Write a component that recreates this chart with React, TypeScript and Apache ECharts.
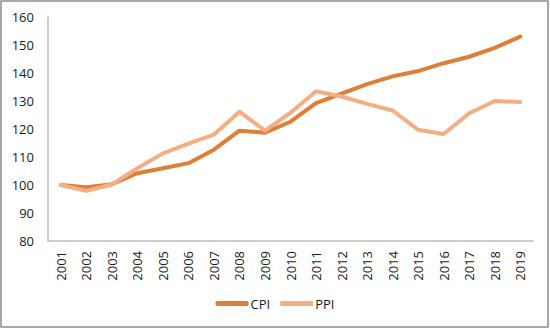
import React, { useEffect, useRef } from "react";
import * as echarts from "echarts";

const years = ["2001","2002","2003","2004","2005","2006","2007","2008","2009","2010","2011","2012","2013","2014","2015","2016","2017","2018","2019"];
const cpi = [100, 99.2, 100.3, 104.2, 106, 107.8, 112.6, 119.4, 118.7, 122.6, 129.2, 132.6, 136, 138.8, 140.7, 143.5, 145.8, 149, 153];
const ppi = [100, 97.9, 100.2, 106, 111.3, 114.8, 118, 126.2, 119.4, 125.8, 133.5, 131.6, 129, 126.6, 119.7, 118.2, 125.6, 130, 129.6];
const yTicks = { min: 80, max: 160, interval: 10 };

export default function App() {
  const ref = useRef<HTMLDivElement>(null);
  useEffect(() => {
    const chart = echarts.init(ref.current!, undefined, { renderer: "svg" });
    const font = "Open Sans";
    chart.setOption({
      animation: false,
      backgroundColor: "#ffffff",
      textStyle: { fontFamily: font },
      graphic: [
        {
          type: "rect",
          shape: { x: 1, y: 1, width: 547, height: 326 },
          style: { fill: "none", stroke: "#8c8c8c", lineWidth: 1.5 },
          silent: true,
        },
      ],
      grid: { left: 48, right: 17, top: 17, bottom: 89, containLabel: false },
      legend: {
        bottom: 15,
        left: "center",
        itemWidth: 33,
        itemHeight: 5,
        itemGap: 10,
        icon: "roundRect",
        textStyle: { fontSize: 13, color: "#1a1a1a", fontFamily: font, padding: [0, 0, 0, -3] },
        data: ["CPI", "PPI"],
      },
      xAxis: {
        type: "category",
        data: years,
        boundaryGap: true,
        axisLine: { lineStyle: { color: "#bfbfbf", width: 1.5 } },
        axisTick: { show: false },
        axisLabel: { rotate: 90, fontSize: 13, color: "#1a1a1a", margin: 10, fontFamily: font },
      },
      yAxis: {
        type: "value",
        min: yTicks.min,
        max: yTicks.max,
        interval: yTicks.interval,
        axisLine: { show: true, lineStyle: { color: "#bfbfbf", width: 1.5 } },
        axisTick: { show: false },
        splitLine: { show: false },
        axisLabel: { fontSize: 13, color: "#1a1a1a", margin: 14, fontFamily: font },
      },
      series: [
        {
          name: "CPI",
          type: "line",
          data: cpi,
          symbol: "none",
          lineStyle: { width: 4, color: "#E07E35", cap: "round", join: "round" },
          itemStyle: { color: "#E07E35" },
        },
        {
          name: "PPI",
          type: "line",
          data: ppi,
          symbol: "none",
          lineStyle: { width: 4, color: "#F5AE82", cap: "round", join: "round" },
          itemStyle: { color: "#F5AE82" },
        },
      ],
    });
    return () => chart.dispose();
  }, []);
  return <div ref={ref} style={{ position: "fixed", left: 0, top: 0, width: 550, height: 330 }} />;
}
